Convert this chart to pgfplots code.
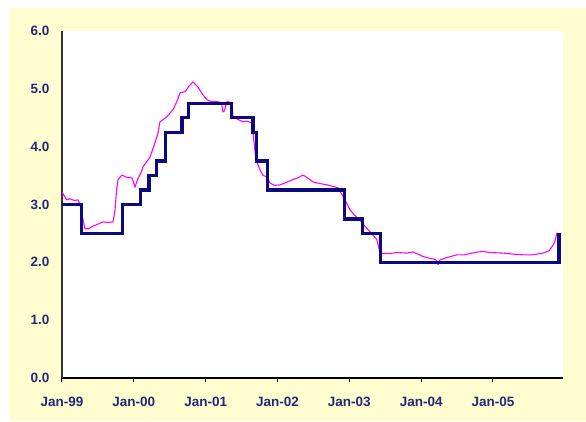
\documentclass[border=0pt]{standalone}
\usepackage{fontspec}
\setmainfont{Liberation Sans}
\usepackage{pgfplots}
\pgfplotsset{compat=1.18}
\definecolor{bgyellow}{RGB}{255,253,208}
\definecolor{navyline}{RGB}{10,10,125}
\definecolor{labnavy}{RGB}{35,40,120}
\definecolor{mag}{RGB}{255,0,255}
\begin{document}
\begin{tikzpicture}[x=1pt,y=1pt]
\useasboundingbox (0,0) rectangle (586,421);
\fill[white] (0,0) rectangle (586,421);
\fill[bgyellow] (10,0) rectangle (586,413);
\begin{axis}[
  at={(62pt,43pt)}, anchor=south west,
  width=501pt, height=347pt, scale only axis,
  xmin=1999, xmax=2005.975, ymin=0, ymax=6,
  axis background/.style={fill=white},
  separate axis lines,
  axis x line=bottom, axis y line=left,
  x axis line style={-, draw=black, line width=1.2pt},
  y axis line style={-, draw=black!80, line width=1.2pt},
  xtick={1999,2000,2001,2002,2003,2004,2005},
  xticklabels={Jan-99,Jan-00,Jan-01,Jan-02,Jan-03,Jan-04,Jan-05},
  ytick={0,1,2,3,4,5,6},
  tick align=outside,
  major tick length=4pt,
  xtick style={draw=black, line width=1pt},
  ytick style={draw=none},
  tick label style={font=\fontsize{13.5}{15}\selectfont\bfseries, text=labnavy},
  yticklabel style={/pgf/number format/fixed, /pgf/number format/fixed zerofill, /pgf/number format/precision=1, /pgf/number format/assume math mode=true, xshift=-5pt},
  xticklabel style={yshift=-12pt},
  clip=false,
]
\addplot[mag, line width=1.1pt, line join=round] coordinates {
(1999.000,3.22) (1999.03,3.15) (1999.070,3.08) (1999.111,3.10) (1999.17,3.07) (1999.223,3.08)
(1999.251,3.00) (1999.29,2.75) (1999.320,2.58) (1999.37,2.58) (1999.418,2.62)
(1999.50,2.66) (1999.571,2.70) (1999.64,2.69) (1999.710,2.70) (1999.738,2.90)
(1999.760,3.25) (1999.780,3.43) (1999.835,3.51) (1999.90,3.47) (1999.975,3.46)
(2000.016,3.30) (2000.058,3.45) (2000.10,3.55) (2000.128,3.65) (2000.197,3.77)
(2000.225,3.82) (2000.295,4.07) (2000.33,4.20) (2000.364,4.43) (2000.40,4.46) (2000.462,4.52)
(2000.545,4.64) (2000.60,4.78) (2000.643,4.93) (2000.712,4.95) (2000.77,5.05) (2000.824,5.12)
(2000.893,5.03) (2000.96,4.90) (2001.019,4.81) (2001.08,4.78) (2001.158,4.78)
(2001.22,4.76) (2001.241,4.60) (2001.26,4.62) (2001.297,4.78) (2001.367,4.76)
(2001.381,4.52) (2001.45,4.47) (2001.520,4.43) (2001.58,4.44) (2001.645,4.41)
(2001.659,4.24) (2001.701,3.77) (2001.757,3.60) (2001.80,3.50) (2001.854,3.48)
(2001.896,3.37) (2001.96,3.33) (2002.035,3.34) (2002.12,3.38) (2002.216,3.43)
(2002.30,3.47) (2002.355,3.51) (2002.42,3.46) (2002.494,3.39) (2002.60,3.36)
(2002.689,3.34) (2002.842,3.29) (2002.940,3.08) (2003.009,2.91) (2003.07,2.82)
(2003.149,2.73) (2003.22,2.62) (2003.288,2.53) (2003.385,2.39) (2003.427,2.16)
(2003.55,2.15) (2003.664,2.17) (2003.80,2.16) (2003.887,2.18) (2003.96,2.14)
(2004.026,2.10) (2004.12,2.07) (2004.20,2.05) (2004.235,1.96) (2004.26,2.04)
(2004.35,2.08) (2004.499,2.13) (2004.60,2.13) (2004.75,2.17) (2004.861,2.19)
(2004.95,2.17) (2005.139,2.16) (2005.30,2.14) (2005.418,2.13) (2005.55,2.13)
(2005.696,2.16) (2005.78,2.20) (2005.822,2.27) (2005.860,2.35) (2005.891,2.51)
};
\addplot[navyline, line width=3.3pt, const plot, line join=miter] coordinates {
(1999.00,3.0) (1999.27,2.5) (1999.84,3.0) (2000.09,3.25) (2000.21,3.5)
(2000.32,3.75) (2000.44,4.25) (2000.67,4.5) (2000.76,4.75) (2001.36,4.5)
(2001.66,4.25) (2001.71,3.75) (2001.86,3.25) (2002.93,2.75) (2003.18,2.5)
(2003.43,2.0) (2005.92,2.5)
};
\end{axis}
\end{tikzpicture}
\end{document}
